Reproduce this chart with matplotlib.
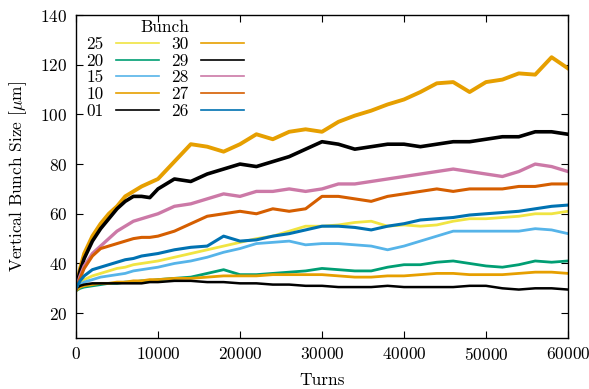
import matplotlib
matplotlib.use("Agg")
import matplotlib.pyplot as plt
from matplotlib.lines import Line2D

plt.rcParams['font.family'] = 'serif'
plt.rcParams['font.serif'] = ['cmr10', 'DejaVu Serif']
plt.rcParams['mathtext.fontset'] = 'cm'
plt.rcParams['axes.formatter.use_mathtext'] = True

turns = [0, 500, 1000, 2000, 3000, 4000, 5000, 6000, 7000, 8000, 9000, 10000,
         12000, 14000, 16000, 18000, 20000, 22000, 24000, 26000, 28000, 30000,
         32000, 34000, 36000, 38000, 40000, 42000, 44000, 46000, 48000, 50000,
         52000, 54000, 56000, 58000, 60000]

b25 = [30, 32, 33.5, 35, 36, 37, 38, 38.5, 39.5, 40, 40.5, 41,
       42.5, 44, 45.5, 47, 48.5, 50, 51, 53, 55, 55,
       55.5, 56.5, 57, 55, 55.5, 55, 55.5, 57, 58, 58,
       58.5, 59, 60, 60, 61]
b20 = [29, 30, 30.5, 31, 31.5, 32, 32, 32.5, 32.5, 33, 33, 33.5,
       34, 34.5, 36, 37.5, 35.5, 35.5, 36, 36.5, 37, 38,
       37.5, 37, 37, 38.5, 39.5, 39.5, 40.5, 41, 40, 39,
       38.5, 39.5, 41, 40.5, 41]
b15 = [30, 31.5, 32.5, 33.5, 34.5, 35, 35.5, 36, 37, 37.5, 38, 38.5,
       40, 41, 42.5, 44.5, 46, 48, 48.5, 49, 47.5, 48,
       48, 47.5, 47, 45.5, 47, 49, 51, 53, 53, 53,
       53, 53, 54, 53.5, 52]
b10 = [29, 30.5, 31, 31.5, 32, 32, 32.5, 32.5, 33, 33, 33.5, 33.5,
       34, 34, 34.5, 35, 35, 35, 35.5, 35.5, 35.5, 35.5,
       35, 34.5, 34.5, 35, 35, 35.5, 36, 36, 35.5, 35.5,
       35.5, 36, 36.5, 36.5, 36]
b01 = [30, 31, 31.5, 32, 32, 32, 32, 32, 32, 32, 32.5, 32.5,
       33, 33, 32.5, 32.5, 32, 32, 31.5, 31.5, 31, 31,
       30.5, 30.5, 30.5, 31, 30.5, 30.5, 30.5, 30.5, 31, 31,
       30, 29.5, 30, 30, 29.5]
b30 = [30, 38, 44, 51, 56, 60, 63, 67, 69, 71, 72.5, 74,
       81, 88, 87, 85, 88, 92, 90, 93, 94, 93,
       97, 99.5, 101.5, 104, 106, 109, 112.5, 113, 109, 113,
       114, 116.5, 116, 123, 118.5]
b29 = [30, 37, 42, 49, 54, 58, 62, 65, 67, 67, 66.5, 70,
       74, 73, 76, 78, 80, 79, 81, 83, 86, 89,
       88, 86, 87, 88, 88, 87, 88, 89, 89, 90,
       91, 91, 93, 93, 92]
b28 = [30, 35, 39, 44, 47, 50, 53, 55, 57, 58, 59, 60,
       63, 64, 66, 68, 67, 69, 69, 70, 69, 70,
       72, 72, 73, 74, 75, 76, 77, 78, 77, 76,
       75, 77, 80, 79, 77]
b27 = [30, 34, 38, 43, 46, 47, 48, 49, 50, 50.5, 50.5, 51,
       53, 56, 59, 60, 61, 60, 62, 61, 62, 67,
       67, 66, 65, 67, 68, 69, 70, 69, 70, 70,
       70, 71, 71, 72, 72]
b26 = [30, 33, 35, 37.5, 38.5, 39.5, 40.5, 41.5, 42, 43, 43.5, 44,
       45.5, 46.5, 47, 51, 49, 49.5, 51, 52, 53.5, 55,
       55, 54.5, 53.5, 55, 56, 57.5, 58, 58.5, 59.5, 60,
       60.5, 61, 62, 63, 63.5]

labels = ['25', '20', '15', '10', '01', '30', '29', '28', '27', '26']
series = [b25, b20, b15, b10, b01, b30, b29, b28, b27, b26]
colors = ['#F0E442', '#009E73', '#56B4E9', '#E69F00', '#000000',
          '#E69F00', '#000000', '#CC79A7', '#D55E00', '#0072B2']
widths = [2.0, 2.0, 2.0, 2.0, 1.8, 2.8, 2.6, 2.4, 2.2, 2.2]

FS = 12.5
fig = plt.figure(figsize=(5.89, 3.89), dpi=100)
ax = fig.add_axes([76/589, 1-338/389, (568-76)/589, (338-15)/389])

for y, c, lw in zip(series, colors, widths):
    ax.plot(turns, y, color=c, lw=lw, solid_joinstyle='round')

ax.set_xlim(0, 60000)
ax.set_ylim(10, 140)
ax.set_xticks(range(0, 60001, 10000))
ax.set_yticks(range(20, 141, 20))
ax.tick_params(direction='in', top=True, right=True, length=5, labelsize=FS, pad=6)
for s in ax.spines.values():
    s.set_linewidth(1.0)
ax.set_xlabel('Turns', fontsize=FS, labelpad=7)
ax.set_ylabel(r'Vertical Bunch Size [$\mu$m]', fontsize=FS, labelpad=8)

handles = [Line2D([], [], color=c, lw=1.2) for c in colors]
leg = ax.legend(handles, labels, ncol=2, title='Bunch', frameon=False,
                loc='upper left', markerfirst=False, handlelength=2.5,
                fontsize=FS, title_fontsize=FS, labelspacing=0.08,
                columnspacing=0.7, handletextpad=0.7,
                borderpad=0.0, borderaxespad=0.0,
                bbox_to_anchor=(0.021, 0.985))

fig.savefig('out.png', dpi=100)
